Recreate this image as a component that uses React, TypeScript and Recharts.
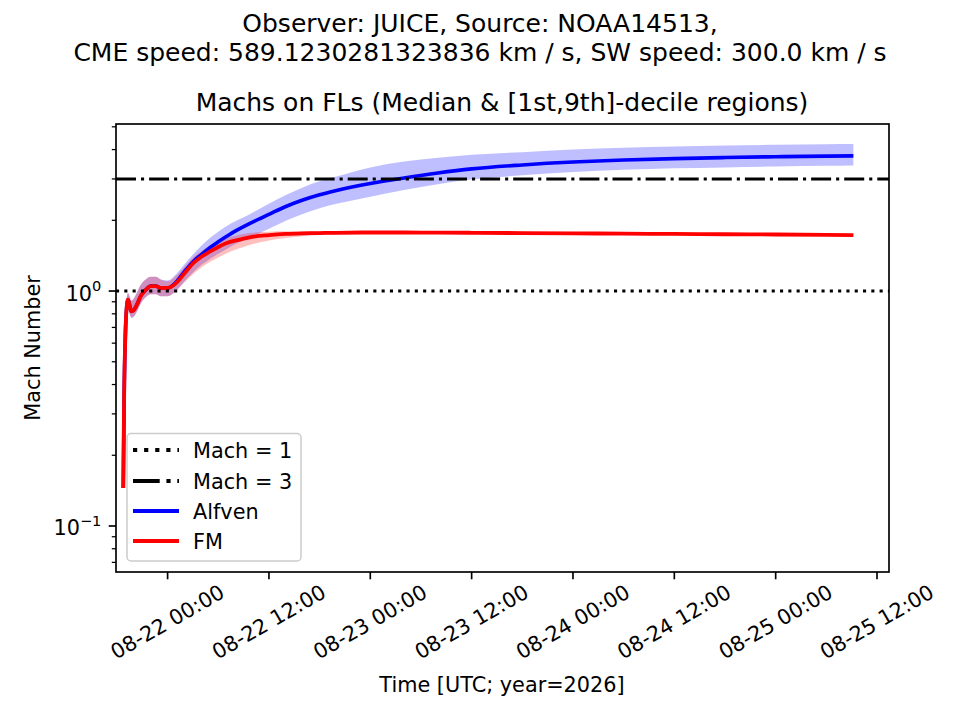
import React from 'react';
import { ComposedChart, Area, Line, XAxis, YAxis, ReferenceLine } from 'recharts';

// hours since 08-22 00:00 UTC
const times = [
  -5.25, -5.15, -5.0, -4.85, -4.7, -4.5, -4.3, -4.0, -3.6, -3.2, -2.6, -2.0, -1.4, -0.8,
  0, 1, 2, 3, 4, 5, 6, 7, 8, 9, 10, 12, 14, 16, 18, 20, 24, 28, 32, 36, 42, 48, 54, 60,
  66, 72, 78, 81.2,
];

const alfvenMedian = [
  0.145, 0.35, 0.65, 0.85, 0.92, 0.87, 0.82, 0.83, 0.88, 0.95, 1.01, 1.05, 1.05, 1.03,
  1.03, 1.09, 1.21, 1.33, 1.43, 1.53, 1.62, 1.71, 1.8, 1.88, 1.96, 2.12, 2.29, 2.44, 2.57,
  2.68, 2.87, 3.03, 3.18, 3.31, 3.44, 3.54, 3.61, 3.66, 3.7, 3.73, 3.75, 3.76,
];
const alfvenLow = [
  0.14, 0.33, 0.6, 0.79, 0.85, 0.8, 0.77, 0.78, 0.82, 0.88, 0.94, 0.97, 0.97, 0.95,
  0.95, 1.0, 1.1, 1.2, 1.29, 1.37, 1.44, 1.51, 1.58, 1.64, 1.7, 1.84, 1.99, 2.13, 2.25,
  2.35, 2.52, 2.69, 2.85, 2.98, 3.11, 3.21, 3.28, 3.33, 3.36, 3.39, 3.41, 3.42,
];
const alfvenHigh = [
  0.155, 0.38, 0.72, 0.92, 0.98, 0.95, 0.91, 0.93, 0.99, 1.06, 1.12, 1.15, 1.15, 1.12,
  1.11, 1.18, 1.3, 1.43, 1.56, 1.68, 1.79, 1.89, 1.98, 2.06, 2.15, 2.35, 2.56, 2.76, 2.93,
  3.07, 3.36, 3.56, 3.69, 3.8, 3.9, 4.0, 4.07, 4.12, 4.16, 4.19, 4.21, 4.22,
];

const fmMedian = [
  0.145, 0.35, 0.65, 0.85, 0.92, 0.87, 0.82, 0.83, 0.88, 0.95, 1.01, 1.05, 1.05, 1.03,
  1.03, 1.08, 1.19, 1.31, 1.4, 1.47, 1.54, 1.6, 1.64, 1.67, 1.7, 1.73, 1.75, 1.76, 1.765,
  1.77, 1.775, 1.775, 1.772, 1.77, 1.765, 1.76, 1.755, 1.75, 1.745, 1.74, 1.735, 1.73,
];
const fmLow = [
  0.14, 0.33, 0.6, 0.79, 0.85, 0.8, 0.77, 0.78, 0.82, 0.88, 0.94, 0.97, 0.97, 0.95,
  0.95, 1.0, 1.09, 1.18, 1.26, 1.33, 1.39, 1.45, 1.5, 1.54, 1.58, 1.64, 1.68, 1.71, 1.73,
  1.745, 1.755, 1.758, 1.756, 1.753, 1.748, 1.743, 1.738, 1.733, 1.728, 1.723, 1.718, 1.714,
];
const fmHigh = [
  0.155, 0.38, 0.72, 0.92, 0.98, 0.95, 0.91, 0.93, 0.99, 1.06, 1.12, 1.15, 1.15, 1.12,
  1.1, 1.16, 1.27, 1.39, 1.48, 1.56, 1.63, 1.68, 1.72, 1.75, 1.77, 1.79, 1.795, 1.795, 1.795,
  1.795, 1.795, 1.793, 1.79, 1.787, 1.782, 1.777, 1.772, 1.767, 1.762, 1.757, 1.752, 1.748,
];

const xTicks = [0, 12, 24, 36, 48, 60, 72, 84];
const yTicks = [0.07, 0.08, 0.09, 0.1, 0.2, 0.3, 0.4, 0.5, 0.6, 0.7, 0.8, 0.9, 1, 2, 3, 4, 5];
const yMajor = [0.1, 1];

const data = times.map((t, i) => ({
  t,
  alfven: alfvenMedian[i],
  alfvenBand: [alfvenLow[i], alfvenHigh[i]],
  fm: fmMedian[i],
  fmBand: [fmLow[i], fmHigh[i]],
}));

const FONT = '"DejaVu Sans", sans-serif';

const XTick = ({ x, y, payload }: any) => {
  const v = payload.value;
  const day = 22 + Math.floor(v / 24);
  const hr = String(v % 24).padStart(2, '0');
  const cy = y + 50;
  return (
    <g>
      <line x1={x} y1={y} x2={x} y2={y + 7.3} stroke="#000" strokeWidth={1.67} />
      <text
        x={x}
        y={cy}
        textAnchor="middle"
        dominantBaseline="central"
        transform={`rotate(-30 ${x} ${cy})`}
        fontSize={20.8}
        fontFamily={FONT}
        fill="#000"
      >
        {`08-${day} ${hr}:00`}
      </text>
    </g>
  );
};

const YTick = ({ x, y, payload }: any) => {
  const v = payload.value;
  const major = yMajor.includes(v);
  const len = major ? 7.3 : 4.2;
  return (
    <g>
      <line x1={x - len} y1={y} x2={x} y2={y} stroke="#000" strokeWidth={major ? 1.67 : 1.25} />
      {major && (
        <text x={x - 14.6} y={y + 9.5} textAnchor="end" fontSize={20.8} fontFamily={FONT} fill="#000">
          10
          <tspan dy={-9.5} fontSize={14.6}>{v === 1 ? '0' : '\u22121'}</tspan>
        </text>
      )}
    </g>
  );
};

export default function App() {
  return (
    <div style={{ position: 'absolute', left: 0, top: 0, width: 960, height: 720, background: '#fff' }}>
      <ComposedChart
        width={960}
        height={720}
        data={data}
        margin={{ top: 124, right: 71, bottom: 0, left: 0 }}
      >
        <XAxis
          dataKey="t"
          type="number"
          domain={[-6.11, 85.42]}
          allowDataOverflow
          ticks={xTicks}
          interval={0}
          tickSize={0}
          tickMargin={0}
          tickLine={false}
          axisLine={false}
          height={148}
          tick={<XTick />}
        />
        <YAxis
          type="number"
          scale="log"
          domain={[0.0637, 5.14]}
          allowDataOverflow
          ticks={yTicks}
          interval={0}
          tickSize={0}
          tickMargin={0}
          tickLine={false}
          axisLine={false}
          width={116}
          tick={<YTick />}
        />
        <Area
          type="monotone"
          dataKey="alfvenBand"
          stroke="none"
          fill="#0000ff"
          fillOpacity={0.25}
          isAnimationActive={false}
          activeDot={false}
        />
        <Area
          type="monotone"
          dataKey="fmBand"
          stroke="none"
          fill="#ff0000"
          fillOpacity={0.25}
          isAnimationActive={false}
          activeDot={false}
        />
        <Line
          type="monotone"
          dataKey="alfven"
          stroke="#0000ff"
          strokeWidth={3.6}
          dot={false}
          activeDot={false}
          isAnimationActive={false}
        />
        <Line
          type="monotone"
          dataKey="fm"
          stroke="#ff0000"
          strokeWidth={3.8}
          dot={false}
          activeDot={false}
          isAnimationActive={false}
        />
        <ReferenceLine y={1} stroke="#000" strokeWidth={3.1} strokeDasharray="3.1 5.2" />
        <ReferenceLine y={3} stroke="#000" strokeWidth={3.1} strokeDasharray="20 5 3.1 5" />
      </ComposedChart>

      <svg
        width={960}
        height={720}
        style={{ position: 'absolute', left: 0, top: 0, pointerEvents: 'none' }}
        fontFamily={FONT}
      >
        {/* frame */}
        <rect x={116} y={124} width={773} height={448} fill="none" stroke="#000" strokeWidth={1.67} />

        {/* titles */}
        <text x={480} y={32} textAnchor="middle" fontSize={25}>
          Observer: JUICE, Source: NOAA14513,
        </text>
        <text x={480} y={61} textAnchor="middle" fontSize={25}>
          CME speed: 589.1230281323836 km / s, SW speed: 300.0 km / s
        </text>
        <text x={502} y={111} textAnchor="middle" fontSize={25}>
          Machs on FLs (Median &amp; [1st,9th]-decile regions)
        </text>

        {/* axis labels */}
        <text x={502} y={692} textAnchor="middle" fontSize={20.8}>
          Time [UTC; year=2026]
        </text>
        <text
          x={33}
          y={348}
          textAnchor="middle"
          dominantBaseline="central"
          transform="rotate(-90 33 348)"
          fontSize={20.8}
        >
          Mach Number
        </text>

        {/* legend */}
        <rect x={127} y={433.5} width={174} height={127.5} rx={4} fill="#fff" fillOpacity={0.8} stroke="#cccccc" strokeWidth={1.5} />
        <line x1={133} y1={450} x2={179} y2={450} stroke="#000" strokeWidth={4} strokeDasharray="4.2 6.9" />
        <text x={193} y={457.5} fontSize={20.8}>Mach = 1</text>
        <line x1={133} y1={481} x2={179} y2={481} stroke="#000" strokeWidth={4} strokeDasharray="26.7 6.7 4.2 6.7" />
        <text x={193} y={488.5} fontSize={20.8}>Mach = 3</text>
        <line x1={133} y1={511} x2={179} y2={511} stroke="#0000ff" strokeWidth={4} />
        <text x={193} y={518.5} fontSize={20.8}>Alfven</text>
        <line x1={133} y1={541} x2={179} y2={541} stroke="#ff0000" strokeWidth={4} />
        <text x={193} y={548.5} fontSize={20.8}>FM</text>
      </svg>
    </div>
  );
}
